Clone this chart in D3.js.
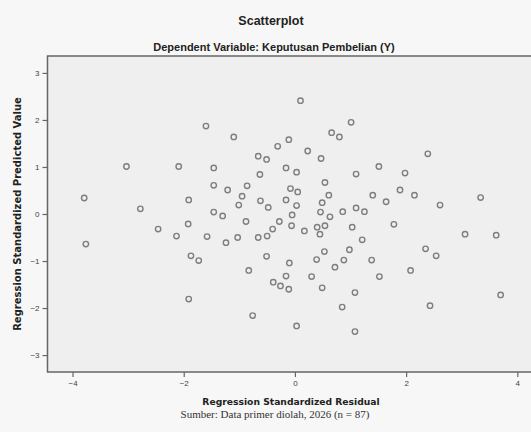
<!DOCTYPE html>
<html>
<head>
    <meta charset="utf-8">
    <title>Scatterplot</title>
    <style type="text/css">
        body{margin:0; background:#f7f7f7;}
        .tick text{font-family: 'Liberation Sans', Arial, sans-serif; font-size:8px; fill:#444;}
    </style>
</head>
<body>
    <script src="https://d3js.org/d3.v7.min.js"></script>
    <script>
      // Regression Standardized Residual (x)
      var residual = [
        -1.60, -3.03, -2.09, -3.79, -2.78, -1.91, -2.46, -1.92, -2.13, -1.58,
        -3.76, -1.87, -1.73, -1.91,  0.10,  1.01,  0.66,  0.80, -1.10, -0.11,
        -0.31,  0.23, -0.66, -0.51,  0.47, -1.46, -0.16,  0.03, -0.63,  1.10,
         1.51, -1.46, -1.21, -0.86, -0.08,  0.05,  0.54, -0.95,  0.61,  1.40,
        -1.01, -0.62, -0.48, -0.16,  0.03,  0.49, -1.46, -1.30, -0.05,  0.46,
         0.63,  0.86,  1.10,  1.25,  1.64, -0.88, -0.28, -0.06, -0.40,  0.40,
         0.54,  1.03,  0.17,  0.45, -1.03, -1.24, -0.66, -0.50,  1.21,  0.53,
         0.98, -0.51, -0.10,  0.39,  0.88,  1.38,  0.72, -0.83, -0.16,  0.30,
         1.52, -0.39, -0.26, -0.11,  0.49,  1.08,  0.85, -0.76,  0.03,  1.08,
         2.39,  1.98,  1.89,  2.15,  2.61,  3.34,  1.78,  3.06,  3.62,  2.35,
         2.54,  2.08,  3.70,  2.43
      ];
      // Regression Standardized Predicted Value (y)
      var predicted = [
         1.87,  1.01,  1.01,  0.34,  0.11,  0.30, -0.32, -0.21, -0.47, -0.48,
        -0.64, -0.89, -0.99, -1.81,  2.41,  1.95,  1.73,  1.64,  1.64,  1.58,
         1.44,  1.34,  1.23,  1.16,  1.18,  0.98,  0.98,  0.89,  0.84,  0.85,
         1.01,  0.61,  0.51,  0.60,  0.54,  0.47,  0.67,  0.38,  0.40,  0.40,
         0.19,  0.28,  0.14,  0.30,  0.18,  0.24,  0.04, -0.04, -0.02,  0.04,
        -0.06,  0.05,  0.13,  0.05,  0.26, -0.16, -0.16, -0.25, -0.32, -0.28,
        -0.25, -0.28, -0.36, -0.43, -0.50, -0.61, -0.50, -0.47, -0.55, -0.80,
        -0.76, -0.90, -1.04, -0.97, -0.98, -0.98, -1.13, -1.20, -1.32, -1.33,
        -1.33, -1.45, -1.53, -1.60, -1.57, -1.67, -1.98, -2.16, -2.38, -2.50,
         1.28,  0.87,  0.51,  0.40,  0.19,  0.35, -0.22, -0.43, -0.45, -0.74,
        -0.89, -1.20, -1.72, -1.95
      ];
      var xTicks = [-4, -2, 0, 2, 4];
      var yTicks = [-3, -2, -1, 0, 1, 2, 3];

      var W = 531, H = 432;
      var plot = {left:47.5, top:56, right:545, bottom:372};

      var svg = d3.select("body")
          .append("svg")
          .attr("width", W)
          .attr("height", H)
          .style("display", "block");

      var xScale = d3.scaleLinear()
          .domain([-4.45, 4.5])
          .range([plot.left, plot.left + 55.6 * 8.95]);

      var yScale = d3.scaleLinear()
          .domain([-3.36, 3.36])
          .range([plot.bottom, plot.top]);

      // plot background + frame
      svg.append("rect")
          .attr("x", plot.left)
          .attr("y", plot.top)
          .attr("width", plot.right - plot.left)
          .attr("height", plot.bottom - plot.top)
          .attr("fill", "#efefef")
          .attr("stroke", "#666")
          .attr("stroke-width", 1.5);

      // points
      var pts = residual.map(function(d, i){ return {x:d, y:predicted[i]}; });
      svg.append("g")
          .selectAll("circle")
          .data(pts)
          .enter()
          .append("circle")
          .attr("cx", function(d){ return xScale(d.x); })
          .attr("cy", function(d){ return yScale(d.y); })
          .attr("r", 2.7)
          .attr("fill", "none")
          .attr("stroke", "#7e7e7e")
          .attr("stroke-width", 1.4);

      // axes
      var xAxis = svg.append("g")
          .attr("transform", "translate(0," + plot.bottom + ")")
          .call(d3.axisBottom(xScale).tickValues(xTicks).tickSize(5).tickPadding(3).tickFormat(d3.format("d")));
      var yAxis = svg.append("g")
          .attr("transform", "translate(" + plot.left + ",0)")
          .call(d3.axisLeft(yScale).tickValues(yTicks).tickSize(5).tickPadding(3).tickFormat(d3.format("d")));
      [xAxis, yAxis].forEach(function(a){
        a.select(".domain").remove();
        a.selectAll(".tick line").attr("stroke", "#666").attr("stroke-width", 1.2);
      });

      // titles
      svg.append("text")
          .attr("x", 271).attr("y", 25)
          .attr("text-anchor", "middle")
          .style("font-family", "'Liberation Sans', Arial, sans-serif")
          .style("font-weight", "bold")
          .style("font-size", "12.5px")
          .attr("fill", "#222")
          .text("Scatterplot");

      svg.append("text")
          .attr("x", 274).attr("y", 51)
          .attr("text-anchor", "middle")
          .style("font-family", "'Liberation Sans', Arial, sans-serif")
          .style("font-weight", "bold")
          .style("font-size", "11px")
          .attr("fill", "#222")
          .text("Dependent Variable: Keputusan Pembelian (Y)");

      svg.append("text")
          .attr("x", 291).attr("y", 405)
          .attr("text-anchor", "middle")
          .style("font-family", "'DejaVu Sans', sans-serif")
          .style("font-weight", "bold")
          .style("font-size", "9.2px")
          .attr("fill", "#222")
          .text("Regression Standardized Residual");

      svg.append("text")
          .attr("transform", "translate(21," + yScale(0) + ") rotate(-90)")
          .attr("text-anchor", "middle")
          .style("font-family", "'DejaVu Sans', sans-serif")
          .style("font-weight", "bold")
          .style("font-size", "10px")
          .attr("fill", "#222")
          .text("Regression Standardized Predicted Value");

      svg.append("text")
          .attr("x", 275).attr("y", 418)
          .attr("text-anchor", "middle")
          .style("font-family", "'Liberation Serif', 'Times New Roman', serif")
          .style("font-size", "11px")
          .attr("fill", "#333")
          .text("Sumber: Data primer diolah, 2026 (n = 87)");
    </script>
</body>
</html>
